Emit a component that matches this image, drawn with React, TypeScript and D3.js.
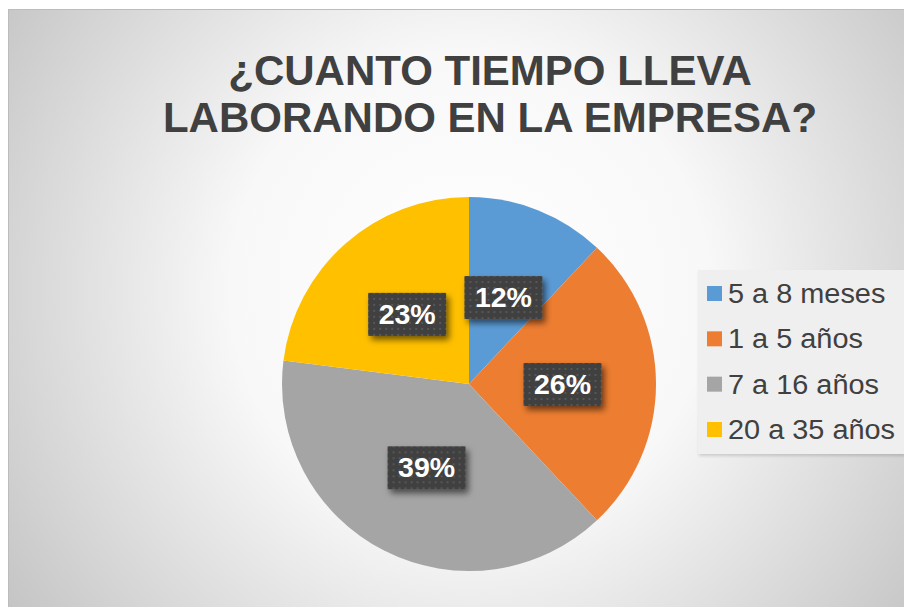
import React, { useEffect } from "react";
import * as d3 from "d3";

const categories = ["5 a 8 meses", "1 a 5 años", "7 a 16 años", "20 a 35 años"];
const values = [12, 26, 39, 23];
const labels = ["12%", "26%", "39%", "23%"];
const colors = ["#5B9BD5", "#ED7D31", "#A5A5A5", "#FFC000"];
const titleLines = ["¿CUANTO TIEMPO LLEVA", "LABORANDO EN LA EMPRESA?"];

const W = 904;
const H = 607;
const cx = 469;
const cy = 384;
const R = 187;

export default function App() {
  useEffect(() => {
    document.body.style.margin = "0";
  }, []);

  const pie = d3.pie<number>().sort(null).value((d) => d);
  const arcs = pie(values);
  const arc = d3.arc<d3.PieArcDatum<number>>().innerRadius(0).outerRadius(R);

  const legendY = d3.scalePoint<string>().domain(categories).range([293.5, 429.5]);

  const font = "'Liberation Sans', Arial, sans-serif";

  return (
    <svg width={W} height={H} style={{ display: "block" }}>
      <defs>
        <radialGradient id="bg" gradientUnits="userSpaceOnUse" cx={470} cy={290} r={570}>
          <stop offset="0" stopColor="#ffffff" />
          <stop offset="0.42" stopColor="#f8f8f8" />
          <stop offset="1" stopColor="#c3c3c3" />
        </radialGradient>
        <pattern id="dots" width="6" height="6" patternUnits="userSpaceOnUse">
          <rect width="6" height="6" fill="#404040" />
          <rect x="2" y="2" width="2" height="2" fill="#575757" />
        </pattern>
        <filter id="shadow" x="-30%" y="-30%" width="160%" height="180%">
          <feDropShadow dx="3" dy="4" stdDeviation="3" floodColor="#000" floodOpacity="0.55" />
        </filter>
        <filter id="lshadow" x="-10%" y="-10%" width="120%" height="130%">
          <feDropShadow dx="1" dy="2" stdDeviation="1.5" floodColor="#000" floodOpacity="0.15" />
        </filter>
      </defs>
      <rect x={0} y={0} width={W} height={H} fill="#ffffff" />
      <rect x={8.5} y={9.5} width={W + 10} height={H + 10} fill="url(#bg)" stroke="#bcbcbc" strokeWidth={1} />

      {titleLines.map((t, i) => (
        <text
          key={i}
          x={490}
          y={85 + i * 47}
          textAnchor="middle"
          fontFamily={font}
          fontWeight="bold"
          fontSize={42}
          fill="#404040"
        >
          {t}
        </text>
      ))}

      <g transform={`translate(${cx},${cy})`}>
        {arcs.map((a, i) => (
          <path key={i} d={arc(a) || ""} fill={colors[i]} />
        ))}
        {arcs.map((a, i) => {
          const [x, y] = arc.centroid(a);
          return (
            <g key={"l" + i} transform={`translate(${x},${y})`}>
              <rect x={-39} y={-21} width={78} height={43} fill="url(#dots)" filter="url(#shadow)" />
              <text
                x={0}
                y={10}
                textAnchor="middle"
                fontFamily={font}
                fontWeight="bold"
                fontSize={28.5}
                fill="#ffffff"
              >
                {labels[i]}
              </text>
            </g>
          );
        })}
      </g>

      <rect x={698} y={270} width={206} height={184} fill="#efefef" filter="url(#lshadow)" />
      {categories.map((c, i) => {
        const y = legendY(c) as number;
        return (
          <g key={c}>
            <rect x={707} y={y - 7.5} width={15} height={15} fill={colors[i]} />
            <g transform={`translate(728,${y + 9.5}) scale(1.07,1)`}>
              <text x={0} y={0} fontFamily={font} fontSize={27} fill="#404040">
                {c}
              </text>
            </g>
          </g>
        );
      })}
    </svg>
  );
}
